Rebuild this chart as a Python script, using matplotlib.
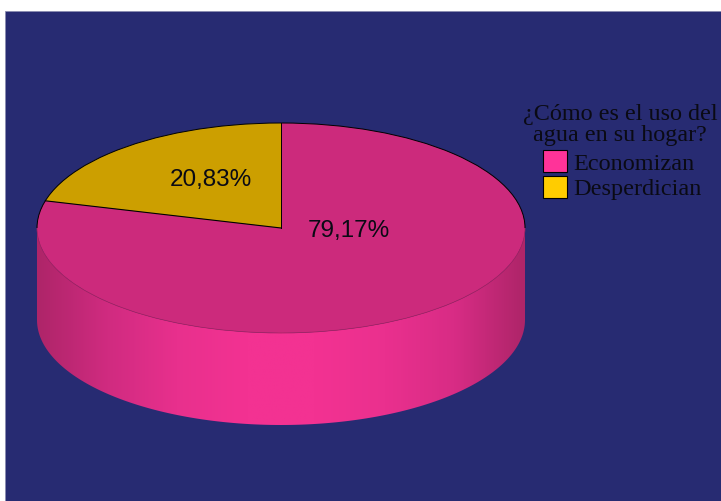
# coding:utf-8
import numpy as np
import matplotlib
matplotlib.use('Agg')
import matplotlib.pyplot as plt
from matplotlib.colors import LinearSegmentedColormap
from matplotlib.patches import Arc, PathPatch, Rectangle, Wedge
from matplotlib.path import Path
from matplotlib.transforms import Affine2D

# datos
categorias = ['Economizan', 'Desperdician']
valores = [79.17, 20.83]
etiquetas = ['79,17%', '20,83%']
titulo = '¿Cómo es el uso del\nagua en su hogar?'
colores_leyenda = ['#FF3399', '#FFCC00']
colores_tapa = ['#CC2A7C', '#CC9F00']
colores_lado = ['#AE2569', '#D02B80', '#E8308D', '#F33292', '#F33292', '#EA308E', '#D82C85', '#AE2569']

fondo = '#272B72'
cx, cy, rx, ry, alto = 281, 228, 244, 105, 92

fig = plt.figure(figsize=(7.21, 5.01), dpi=100, facecolor='white')
ax = fig.add_axes([0, 0, 1, 1])
ax.axis('off')

ax.add_patch(Rectangle((5, 11), 720, 495, facecolor=fondo, edgecolor='#8A8CB0', linewidth=0.6))

# lado del cilindro
t = np.linspace(np.pi, 2 * np.pi, 200)
xs = cx + rx * np.cos(t)
ys_arriba = cy - ry * np.sin(t)
ys_abajo = ys_arriba + alto
verts = np.vstack([np.column_stack([xs, ys_abajo]), np.column_stack([xs[::-1], ys_arriba[::-1]])])
lado = PathPatch(Path(np.vstack([verts, verts[0]]), closed=True), facecolor='none', edgecolor='none')
ax.add_patch(lado)
cmap = LinearSegmentedColormap.from_list('lado', colores_lado)
img = ax.imshow(np.linspace(0, 1, 256)[None, :], cmap=cmap, aspect='auto',
                extent=[cx - rx, cx + rx, cy + ry + alto, cy], zorder=2)
img.set_clip_path(lado)

# tapa
tapa = Affine2D().scale(rx, -ry).translate(cx, cy) + ax.transData
inicio = 90
ang_gold = valores[1] / sum(valores) * 360
w_pink = Wedge((0, 0), 1, inicio + ang_gold, inicio + 360, transform=tapa,
               facecolor=colores_tapa[0], edgecolor='none', zorder=3)
w_gold = Wedge((0, 0), 1, inicio, inicio + ang_gold, transform=tapa,
               facecolor=colores_tapa[1], edgecolor='none', zorder=3)
ax.add_patch(w_pink)
ax.add_patch(w_gold)

# bordes
ax.add_patch(Arc((cx, cy), 2 * rx, 2 * ry, theta1=0, theta2=180, color='#A02262', lw=0.5, zorder=4))
ax.add_patch(Arc((cx, cy), 2 * rx, 2 * ry, theta1=180, theta2=360, color='black', lw=0.7, zorder=4))
a = np.radians(inicio + ang_gold)
ax.plot([cx, cx], [cy, cy - ry], color='black', lw=0.7, zorder=5)
ax.plot([cx, cx + rx * np.cos(a)], [cy, cy - ry * np.sin(a)], color='black', lw=0.8, zorder=5)

ax.text(349, 231, etiquetas[0], family='Liberation Sans', fontsize=17.5, color='#0A0A14',
        ha='center', va='center', zorder=6)
ax.text(211, 180, etiquetas[1], family='Liberation Sans', fontsize=17.5, color='#0A0A14',
        ha='center', va='center', zorder=6)

# leyenda
ax.text(620, 125, titulo, family='Liberation Serif', fontsize=17.4, color='#0A0A14',
        ha='center', va='center', linespacing=1.0, zorder=6)
for y, nombre, color in zip([161, 187], categorias, colores_leyenda):
    ax.add_patch(Rectangle((543, y - 11), 24, 22, facecolor=color, edgecolor='black', lw=0.8, zorder=6))
    ax.text(573, y + 3, nombre, family='Liberation Serif', fontsize=17.5, color='#0A0A14',
            ha='left', va='center', zorder=6)

ax.set_xlim(0, 721)
ax.set_ylim(501, 0)
fig.savefig('out.png', dpi=100, facecolor='white')
